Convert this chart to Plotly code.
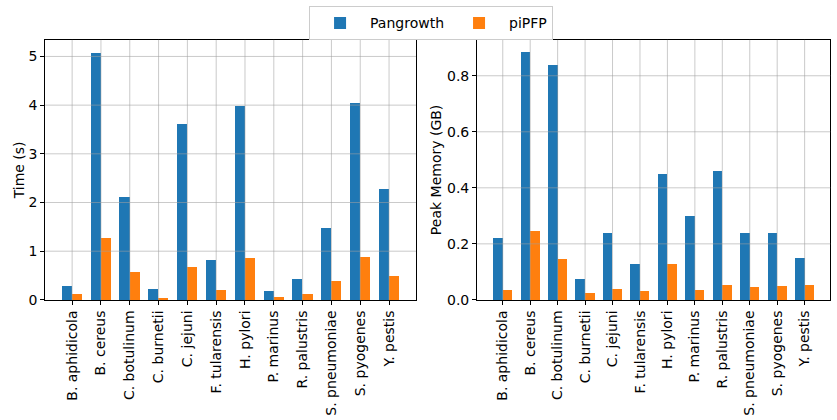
import plotly.graph_objects as go
from plotly.subplots import make_subplots

species = ["B. aphidicola", "B. cereus", "C. botulinum", "C. burnetii", "C. jejuni",
           "F. tularensis", "H. pylori", "P. marinus", "R. palustris", "S. pneumoniae",
           "S. pyogenes", "Y. pestis"]
time_pangrowth = [0.29, 5.08, 2.11, 0.225, 3.61, 0.82, 3.98, 0.18, 0.43, 1.48, 4.04, 2.27]
time_pipfp = [0.12, 1.27, 0.57, 0.04, 0.68, 0.205, 0.86, 0.06, 0.12, 0.39, 0.88, 0.49]
mem_pangrowth = [0.221, 0.884, 0.838, 0.075, 0.239, 0.128, 0.449, 0.30, 0.46, 0.239, 0.239, 0.15]
mem_pipfp = [0.036, 0.246, 0.146, 0.025, 0.039, 0.032, 0.128, 0.036, 0.053, 0.046, 0.05, 0.053]
time_ticks = [0, 1, 2, 3, 4, 5]
mem_ticks = [0, 0.2, 0.4, 0.6, 0.8]

BLUE = "#1f77b4"
ORANGE = "#ff7f0e"
GRID = "rgba(160,160,160,0.7)"
W = 0.35
idx = list(range(len(species)))
left_pos = [i - W / 2 for i in idx]
right_pos = [i + W / 2 for i in idx]

fig = make_subplots(rows=1, cols=2)

fig.add_trace(go.Bar(x=left_pos, y=time_pangrowth, width=W, marker=dict(color=BLUE, line_width=0),
                     name="Pangrowth", legendgroup="a"), row=1, col=1)
fig.add_trace(go.Bar(x=right_pos, y=time_pipfp, width=W, marker=dict(color=ORANGE, line_width=0),
                     name="piPFP", legendgroup="b"), row=1, col=1)
fig.add_trace(go.Bar(x=left_pos, y=mem_pangrowth, width=W, marker=dict(color=BLUE, line_width=0),
                     name="Pangrowth", legendgroup="a", showlegend=False), row=1, col=2)
fig.add_trace(go.Bar(x=right_pos, y=mem_pipfp, width=W, marker=dict(color=ORANGE, line_width=0),
                     name="piPFP", legendgroup="b", showlegend=False), row=1, col=2)

font = "DejaVu Sans"
FS = 14
axis_common = dict(showline=True, linecolor="black", linewidth=1, mirror=True,
                   ticks="outside", ticklen=4, tickcolor="black", automargin=False,
                   showgrid=False, zeroline=False,
                   tickfont=dict(family=font, size=FS, color="black"))

xr = [-0.935, 11.935]
fig.update_xaxes(**axis_common, range=xr, tickmode="array", tickvals=idx, ticktext=species,
                 tickangle=-90)
fig.update_xaxes(domain=[0.054, 0.497], row=1, col=1)
fig.update_xaxes(domain=[0.570, 0.992], row=1, col=2)

fig.update_yaxes(**axis_common)
fig.update_yaxes(domain=[0.286, 0.905], range=[0, 5.34], tickvals=time_ticks,
                 title=dict(text="Time (s)", font=dict(family=font, size=FS, color="black"), standoff=0),
                 row=1, col=1)
fig.update_yaxes(domain=[0.286, 0.905], range=[0, 0.928], tickvals=mem_ticks,
                 tickformat=".1f",
                 title=dict(text="Peak Memory (GB)", font=dict(family=font, size=FS, color="black"), standoff=2),
                 row=1, col=2)

# gridlines drawn above the bars (matplotlib default draw order)
for xa, ya, yticks in [("x", "y", time_ticks), ("x2", "y2", mem_ticks)]:
    for i in idx:
        fig.add_shape(type="line", xref=xa, yref=ya + " domain", x0=i, x1=i, y0=0, y1=1,
                      line=dict(color=GRID, width=0.8), layer="above")
    for t in yticks[1:]:
        fig.add_shape(type="line", xref=xa + " domain", yref=ya, x0=0, x1=1, y0=t, y1=t,
                      line=dict(color=GRID, width=0.8), layer="above")

fig.update_layout(
    width=837, height=420, autosize=False,
    margin=dict(l=0, r=0, t=0, b=0),
    paper_bgcolor="white", plot_bgcolor="white",
    barmode="overlay", bargap=0,
    font=dict(family=font, size=FS, color="black"),
    legend=dict(orientation="h", x=0.515, xanchor="center", y=0.985, yanchor="top",
                bordercolor="#cccccc", borderwidth=1, bgcolor="white",
                font=dict(family=font, size=FS, color="black"),
                itemwidth=50, traceorder="normal"),
)

fig.write_html("out.html")
